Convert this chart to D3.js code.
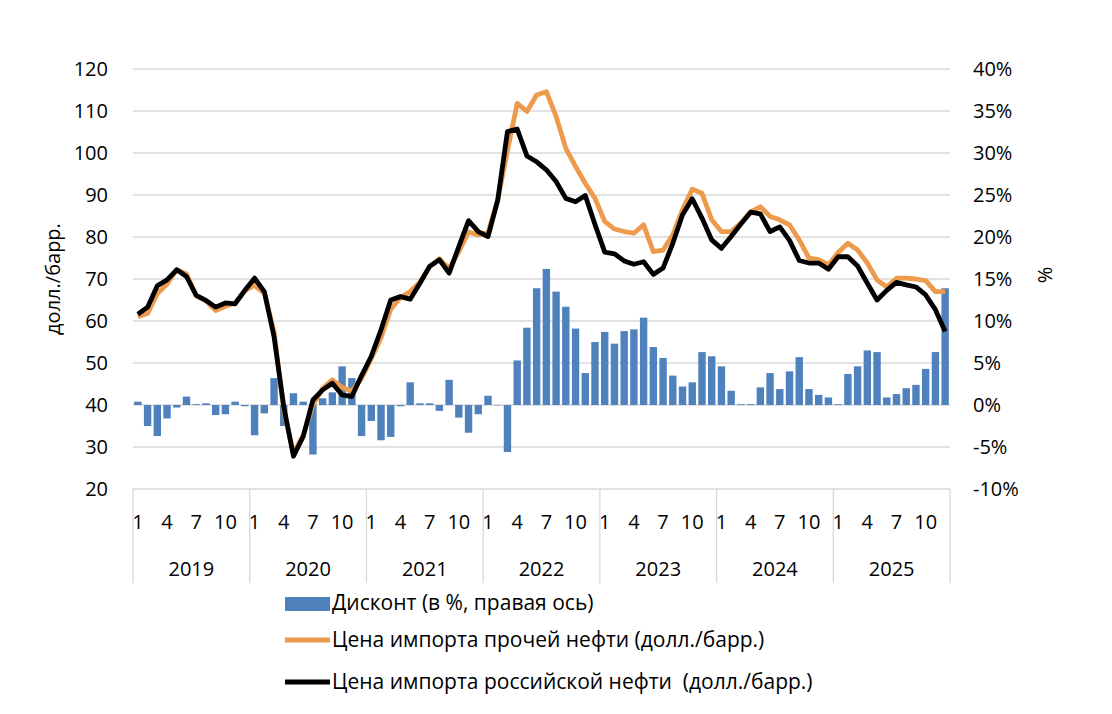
<!DOCTYPE html>
<html>
<head>
<meta charset="utf-8">
<script src="https://cdn.jsdelivr.net/npm/d3@7"></script>
<style>
  body { margin: 0; background: #fff; }
  svg text { font-family: "Open Sans", "DejaVu Sans", sans-serif; fill: #000; }
</style>
</head>
<body>
<div id="chart"></div>
<script>
// Chart data, monthly Jan 2019 - Dec 2025
let years = ['2019', '2020', '2021', '2022', '2023', '2024', '2025'];
let monthTicks = [1, 4, 7, 10];

// Дисконт, % (right axis)
let discount = [
    0.4, -2.5, -3.7, -1.6, -0.3, 1.0, 0.1, 0.2, -1.2, -1.1, 0.4, -0.15,
    -3.6, -1.0, 3.2, -2.5, 1.4, 0.4, -5.9, 0.8, 1.5, 4.6, 3.2, -3.7,
    -1.9, -4.2, -3.8, -0.15, 2.7, 0.2, 0.2, -0.7, 3.0, -1.5, -3.3, -1.1,
    1.1, -0.05, -5.6, 5.3, 9.2, 13.9, 16.2, 13.5, 11.7, 9.1, 3.8, 7.5,
    8.7, 7.3, 8.8, 9.0, 10.4, 6.9, 5.6, 3.5, 2.2, 2.7, 6.3, 5.8,
    4.6, 1.7, 0.1, 0.1, 2.1, 3.8, 1.9, 4.0, 5.7, 1.9, 1.2, 0.9,
    0.1, 3.7, 4.6, 6.5, 6.3, 0.9, 1.3, 2.0, 2.4, 4.3, 6.3, 13.9
];

// Цена импорта прочей нефти
let otherPrice = [
    61.0, 61.8, 66.5, 68.8, 72.2, 71.2, 66.0, 64.8, 62.5, 63.5, 64.3, 67.2,
    68.5, 66.6, 57.5, 38.8, 28.5, 32.8, 40.0, 44.0, 46.0, 44.2, 43.3, 46.3,
    51.0, 56.0, 62.8, 65.6, 67.0, 69.2, 73.0, 74.8, 72.5, 76.5, 81.2, 80.5,
    81.0, 88.8, 100.5, 111.8, 109.9, 113.8, 114.6, 108.7, 101.1, 96.8, 92.8, 89.2,
    83.7, 81.9, 81.3, 80.9, 82.9, 76.5, 76.9, 80.5, 86.5, 91.4, 90.4, 84.1,
    81.3, 81.3, 83.3, 86.0, 87.2, 84.9, 84.1, 82.9, 79.3, 75.0, 74.6, 73.4,
    76.3, 78.5, 76.9, 73.8, 69.8, 68.1, 70.2, 70.2, 70.0, 69.6, 67.0, 67.0
];

// Цена импорта российской нефти
let russianPrice = [
    61.6, 63.3, 68.4, 69.8, 72.2, 70.6, 66.1, 64.9, 63.3, 64.3, 64.1, 67.3,
    70.2, 67.0, 56.3, 39.6, 27.8, 32.5, 41.2, 43.6, 45.2, 42.4, 42.0, 47.0,
    51.6, 57.9, 65.0, 65.8, 65.2, 69.0, 73.0, 74.6, 71.4, 77.7, 83.9, 81.3,
    80.1, 88.8, 105.1, 105.7, 99.3, 97.9, 96.0, 93.2, 89.2, 88.4, 89.9, 83.0,
    76.4, 76.0, 74.3, 73.5, 74.1, 71.1, 72.6, 78.5, 85.3, 89.1, 84.5, 79.3,
    77.3, 80.1, 83.1, 85.9, 85.5, 81.3, 82.4, 79.2, 74.4, 73.8, 73.8, 72.3,
    75.3, 75.3, 73.1, 69.0, 65.0, 67.3, 69.2, 68.6, 68.1, 66.2, 62.7, 57.5
];

let leftTicks = [20, 30, 40, 50, 60, 70, 80, 90, 100, 110, 120];
let rightTicks = [-10, -5, 0, 5, 10, 15, 20, 25, 30, 35, 40];

let svgWidth = 1112;
let svgHeight = 714;

let margin = { top: 69, right: 162, bottom: 225, left: 133 };
let width = svgWidth - margin.left - margin.right;
let height = svgHeight - margin.top - margin.bottom;

let svg = d3.select('#chart')
    .append('svg')
    .attr('width', svgWidth)
    .attr('height', svgHeight);

let chartGroup = svg.append('g')
    .attr('transform', `translate(${margin.left}, ${margin.top})`);

let idx = d3.range(discount.length);

// scales
let xBand = d3.scaleBand()
    .domain(idx)
    .range([0, width])
    .paddingInner(0.24)
    .paddingOuter(0.12);
let xStep = width / idx.length;
let xCenter = i => i * xStep + xStep / 2;

let yLeft = d3.scaleLinear().domain([20, 120]).range([height, 0]);
let yRight = d3.scaleLinear().domain([-10, 40]).range([height, 0]);

// gridlines
chartGroup.append('g')
    .selectAll('line')
    .data(leftTicks)
    .enter()
    .append('line')
    .attr('x1', 0)
    .attr('x2', width)
    .attr('y1', d => yLeft(d))
    .attr('y2', d => yLeft(d))
    .attr('stroke', '#d9d9d9')
    .attr('stroke-width', 1.3);

// left axis
let leftAxis = d3.axisLeft(yLeft).tickValues(leftTicks).tickSize(0).tickPadding(25);
let gLeft = chartGroup.append('g').call(leftAxis);
gLeft.select('.domain').remove();
gLeft.selectAll('text').style('font-size', '20px').attr('fill', '#000');

// right axis
let rightAxis = d3.axisRight(yRight).tickValues(rightTicks).tickSize(0).tickPadding(23)
    .tickFormat(d => d + '%');
let gRight = chartGroup.append('g')
    .attr('transform', `translate(${width}, 0)`)
    .call(rightAxis);
gRight.select('.domain').remove();
gRight.selectAll('text').style('font-size', '20px').attr('fill', '#000');

// bars
chartGroup.append('g')
    .selectAll('rect')
    .data(idx)
    .enter()
    .append('rect')
    .attr('x', i => xBand(i))
    .attr('width', xBand.bandwidth())
    .attr('y', i => yRight(Math.max(0, discount[i])))
    .attr('height', i => Math.abs(yRight(discount[i]) - yRight(0)))
    .attr('fill', '#4f81bd');

// lines
let lineOther = d3.line().x(i => xCenter(i)).y(i => yLeft(otherPrice[i]));
let lineRus = d3.line().x(i => xCenter(i)).y(i => yLeft(russianPrice[i]));

chartGroup.append('path')
    .datum(idx)
    .attr('d', lineOther)
    .attr('fill', 'none')
    .attr('stroke', '#ee9a4d')
    .attr('stroke-width', 4.8)
    .attr('stroke-linejoin', 'round');

chartGroup.append('path')
    .datum(idx)
    .attr('d', lineRus)
    .attr('fill', 'none')
    .attr('stroke', '#000')
    .attr('stroke-width', 4.8)
    .attr('stroke-linejoin', 'round');

// category axis: year separators, month labels, year labels
let yearSep = d3.range(years.length + 1);
chartGroup.append('g')
    .selectAll('line')
    .data(yearSep)
    .enter()
    .append('line')
    .attr('x1', d => d * 12 * xStep)
    .attr('x2', d => d * 12 * xStep)
    .attr('y1', height)
    .attr('y2', height + 94)
    .attr('stroke', '#d9d9d9')
    .attr('stroke-width', 1.3);

let monthLabels = idx.filter(i => monthTicks.includes(i % 12 + 1));
chartGroup.append('g')
    .selectAll('text')
    .data(monthLabels)
    .enter()
    .append('text')
    .attr('x', i => xCenter(i))
    .attr('y', height + 33)
    .attr('dy', '0.35em')
    .attr('text-anchor', 'middle')
    .style('font-size', '20px')
    .text(i => i % 12 + 1);

chartGroup.append('g')
    .selectAll('text')
    .data(years)
    .enter()
    .append('text')
    .attr('x', (d, k) => (k + 0.5) * 12 * xStep)
    .attr('y', height + 80)
    .attr('dy', '0.35em')
    .attr('text-anchor', 'middle')
    .style('font-size', '20px')
    .text(d => d);

// axis titles
svg.append('text')
    .attr('transform', `translate(53, 279) rotate(-90)`)
    .attr('text-anchor', 'middle')
    .attr('dy', '0.35em')
    .style('font-size', '20px')
    .text('долл./барр.');

svg.append('text')
    .attr('transform', `translate(1045, 275) rotate(-90)`)
    .attr('text-anchor', 'middle')
    .attr('dy', '0.35em')
    .style('font-size', '20px')
    .text('%');

// legend
let legend = svg.append('g').attr('transform', 'translate(285, 0)');
legend.append('rect')
    .attr('x', 0).attr('y', 597)
    .attr('width', 45).attr('height', 14)
    .attr('fill', '#4f81bd');
legend.append('line')
    .attr('x1', 0).attr('x2', 45).attr('y1', 640).attr('y2', 640)
    .attr('stroke', '#ee9a4d').attr('stroke-width', 4.8);
legend.append('line')
    .attr('x1', 0).attr('x2', 45).attr('y1', 682).attr('y2', 682)
    .attr('stroke', '#000').attr('stroke-width', 4.8);

let legendText = ['Дисконт (в %, правая ось)',
    'Цена импорта прочей нефти (долл./барр.)',
    'Цена импорта российской нефти\u00a0 (долл./барр.)'];
legend.selectAll('.lt')
    .data(legendText)
    .enter()
    .append('text')
    .attr('class', 'lt')
    .attr('x', 47)
    .attr('y', (d, k) => [603, 640, 682][k])
    .attr('dy', '0.35em')
    .style('font-size', '21px')
    .text(d => d);
</script>
</body>
</html>
